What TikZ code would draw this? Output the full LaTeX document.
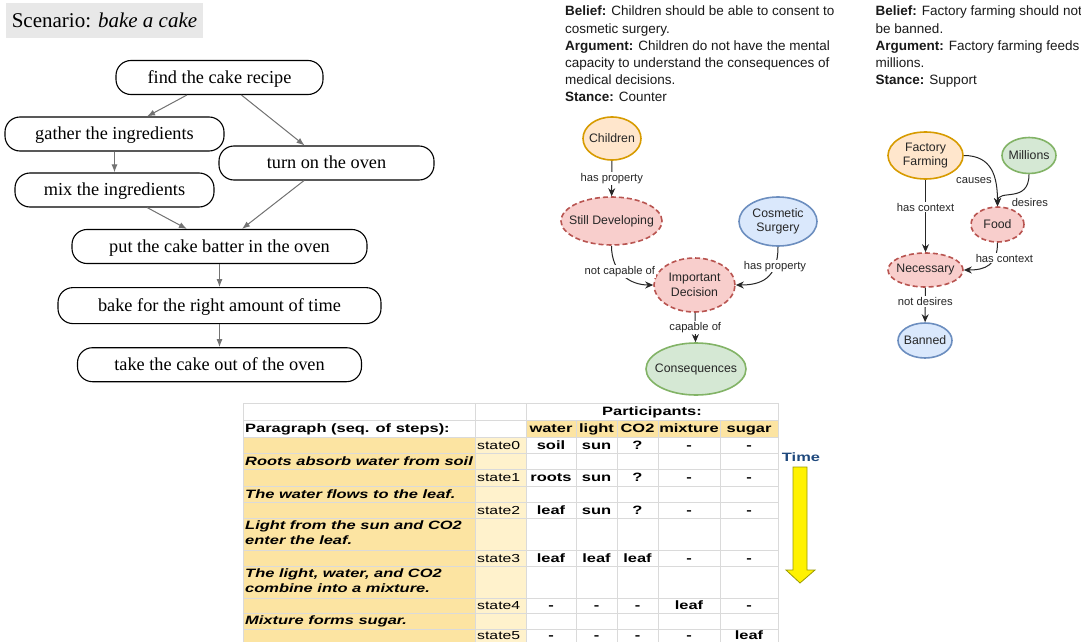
\documentclass[tikz,border=0pt]{standalone}
\usepackage{fontspec}
\usepackage{graphicx}
\setmainfont{Liberation Sans}
\newfontfamily\cakefont{Liberation Serif}
\usetikzlibrary{positioning,arrows.meta,shapes.geometric}
\definecolor{cakegray}{HTML}{E8E8E8}
\definecolor{orfill}{HTML}{FFE6CC}
\definecolor{ordraw}{HTML}{D79B00}
\definecolor{redfill}{HTML}{F8CECC}
\definecolor{reddraw}{HTML}{B85450}
\definecolor{bluefill}{HTML}{DAE8FC}
\definecolor{bluedraw}{HTML}{6C8EBF}
\definecolor{greenfill}{HTML}{D5E8D4}
\definecolor{greendraw}{HTML}{82B366}
\definecolor{parfill}{HTML}{FCE4A2}
\definecolor{statefill}{HTML}{FFF2CC}
\definecolor{gridgray}{HTML}{DADADA}
\definecolor{timeblue}{HTML}{1F497D}
\definecolor{arrowolive}{HTML}{9A9A00}
\newcommand{\wide}[1]{\scalebox{1.36}[1]{#1}}

\begin{document}
\begin{tikzpicture}[
x=1pt, y=-1pt,
scenario/.style={fill=cakegray, minimum width=197pt, minimum height=35pt, inner sep=0pt, font=\cakefont\fontsize{21}{24}\selectfont},
stepbox/.style={draw, rounded corners=15pt, line width=1.1pt, minimum height=34pt, inner sep=0pt, text height=12.6pt, text depth=1pt, font=\cakefont\fontsize{18.3}{22}\selectfont},
flow/.style={-{Latex[length=8pt,width=6pt]}, line width=1pt, draw=black!55, fill=black!55},
note/.style={align=left, inner sep=0pt, anchor=north west, font=\fontsize{13.5}{17.2}\selectfont, text=black!90},
concept/.style={ellipse, line width=1.6pt, inner xsep=-25pt, inner ysep=0pt, align=center, font=\fontsize{12.3}{14.5}\selectfont, text=black!85},
subj/.style={concept, draw=ordraw, fill=orfill},
implicit/.style={concept, draw=reddraw, fill=redfill, dash pattern=on 5pt off 3pt},
obj/.style={concept, draw=bluedraw, fill=bluefill},
extra/.style={concept, draw=greendraw, fill=greenfill},
link/.style={-{Stealth[length=8pt,width=7pt]}, line width=1pt, draw=black!85},
lab/.style={fill=white, inner sep=1pt, font=\fontsize{11.2}{13}\selectfont, text=black!85},
cellline/.style={draw=gridgray, line width=0.8pt},
cell/.style={inner sep=0pt, text height=8.8pt, text depth=0pt, font=\bfseries\fontsize{12.1}{15}\selectfont},
statecell/.style={cell, anchor=west, font=\fontsize{11.6}{15}\selectfont},
steptext/.style={inner sep=0pt, anchor=west, font=\bfseries\itshape\fontsize{12.1}{15}\selectfont},
timearrow/.style={fill=yellow, draw=arrowolive, line width=0.8pt},
node distance=23pt
]
\useasboundingbox (0,0) rectangle (1081,642);

% scenario graph
\node[scenario] (scen) at (104.5,20.2) {Scenario: \textit{bake a cake}};
\node[stepbox, minimum width=207pt] (find) at (219.5,77.5) {find the cake recipe};
\node[stepbox, minimum width=219pt] (gather) at (114.5,134) {gather the ingredients};
\node[stepbox, minimum width=215pt] (oven) at (326.5,163) {turn on the oven};
\node[stepbox, minimum width=199pt] (mix) at (114.5,190) {mix the ingredients};
\node[stepbox, minimum width=295pt] (batter) at (219.5,246.5) {put the cake batter in the oven};
\node[stepbox, minimum width=323pt, minimum height=36pt, below=of batter] (bake) {bake for the right amount of time};
\node[stepbox, minimum width=284pt, below=of bake] (takeout) {take the cake out of the oven};
\draw[flow] (find) -- (gather);
\draw[flow] (find) -- (oven);
\draw[flow] (gather) -- (mix);
\draw[flow] (mix) -- (batter);
\draw[flow] (oven) -- (batter);
\draw[flow] (batter) -- (bake);
\draw[flow] (bake) -- (takeout);

% belief graphs
\node[note] (belief1) at (565,6) {\textbf{Belief:} Children should be able to consent to\\cosmetic surgery.\\\textbf{Argument:} Children do not have the mental\\capacity to understand the consequences of\\medical decisions.\\\textbf{Stance:} Counter};
\node[note] (belief2) at (875.5,6) {\textbf{Belief:} Factory farming should not\\be banned.\\\textbf{Argument:} Factory farming feeds\\millions.\\\textbf{Stance:} Support};

\node[subj, minimum width=58pt, minimum height=43pt] (children) at (612,138.5) {Children};
\node[implicit, minimum width=101pt, minimum height=48pt] (developing) at (611.5,221) {Still Developing};
\node[obj, minimum width=78pt, minimum height=49pt] (surgery) at (778,221.5) {Cosmetic\\Surgery};
\node[implicit, minimum width=81pt, minimum height=54pt] (decision) at (694.5,285) {Important\\Decision};
\node[extra, minimum width=100pt, minimum height=52pt] (conseq) at (696,369) {Consequences};
\draw[link] (children) -- node[lab]{has property} (developing);
\draw[link] (developing.south) .. controls +(0,28) and +(-22,0) .. node[lab, pos=0.4]{not capable of} (decision.west);
\draw[link] (surgery.south) .. controls +(0,32) and +(25,0) .. node[lab, pos=0.25]{has property} (decision.east);
\draw[link] (decision) -- node[lab]{capable of} (conseq);

\node[subj, minimum width=75pt, minimum height=47pt] (farming) at (925.5,155.5) {Factory\\Farming};
\node[extra, minimum width=54pt, minimum height=36pt] (millions) at (1029,155.5) {Millions};
\node[implicit, minimum width=53pt, minimum height=35pt] (food) at (997.5,224.5) {Food};
\node[implicit, minimum width=75pt, minimum height=34pt] (necessary) at (925.5,270) {Necessary};
\node[obj, minimum width=54pt, minimum height=35pt] (banned) at (925,340.5) {Banned};
\draw[link] (farming) -- node[lab, pos=0.38]{has context} (necessary);
\draw[link] (farming.east) .. controls +(28,0) and +(0,-30) .. node[lab, pos=0.68, anchor=east, xshift=-2pt]{causes} (food.north);
\draw[link] (millions.south) .. controls +(0,30) and +(0,-18) .. node[lab, pos=0.5, anchor=north west, xshift=-3pt, yshift=-2pt]{desires} (food.north);
\draw[link] (food.south) .. controls +(0,22) and +(22,0) .. node[lab, pos=0.3, xshift=10pt]{has context} (necessary.east);
\draw[link] (necessary) -- node[lab, pos=0.4]{not desires} (banned);

% procedural table
\fill[parfill] (243,437) rectangle (475,646);
\fill[statefill] (475,437) rectangle (526,646);
\fill[parfill] (526,420) rectangle (778,437);
\foreach \y in {403,420,437,453,469,486,502,518,550,566,598,613,629}
  \draw[cellline] (243,\y) -- (778,\y);
\foreach \x in {243,475,526,778}
  \draw[cellline] (\x,403) -- (\x,646);
\foreach \x in {576,617,658,720}
  \draw[cellline] (\x,420) -- (\x,646);

\node[cell] (participants) at (652,411.5) {\wide{Participants:}};
\node[cell, anchor=west] (paragraph) at (245,428.5) {\wide{Paragraph (seq. of steps):}};
\foreach \name/\x in {water/551, light/596.5, CO2/637.5, mixture/689, sugar/749}
  \node[cell] (h-\name) at (\x,428.5) {\wide{\name}};

\foreach \i/\y/\a/\b/\c/\d/\e in {0/445/soil/sun/?/-/-, 1/477.5/roots/sun/?/-/-, 2/510/leaf/sun/?/-/-, 3/558/leaf/leaf/leaf/-/-, 4/605.5/-/-/-/leaf/-, 5/635.5/-/-/-/-/leaf}{
  \node[statecell] (state\i) at (477,\y) {\wide{state\i}};
  \node[cell] (v\i-a) at (551,\y) {\wide{\a}};
  \node[cell] (v\i-b) at (596.5,\y) {\wide{\b}};
  \node[cell] (v\i-c) at (637.5,\y) {\wide{\c}};
  \node[cell] (v\i-d) at (689,\y) {\wide{\d}};
  \node[cell] (v\i-e) at (749,\y) {\wide{\e}};
}

\node[steptext] (step1) at (245,461) {\wide{Roots absorb water from soil}};
\node[steptext] (step2) at (245,494) {\wide{The water flows to the leaf.}};
\node[steptext] (step3) at (245,534) {\wide{\begin{tabular}{@{}l@{}}Light from the sun and CO2\\enter the leaf.\end{tabular}}};
\node[steptext] (step4) at (245,582) {\wide{\begin{tabular}{@{}l@{}}The light, water, and CO2\\combine into a mixture.\end{tabular}}};
\node[steptext] (step5) at (245,621) {\wide{Mixture forms sugar.}};

% time arrow
\node[cell, text=timeblue] (time) at (801,457) {\wide{Time}};
\draw[timearrow] (793,467) -- (807,467) -- (807,570) -- (815,570) -- (800,583) -- (786,570) -- (793,570) -- cycle;
\end{tikzpicture}
\end{document}
